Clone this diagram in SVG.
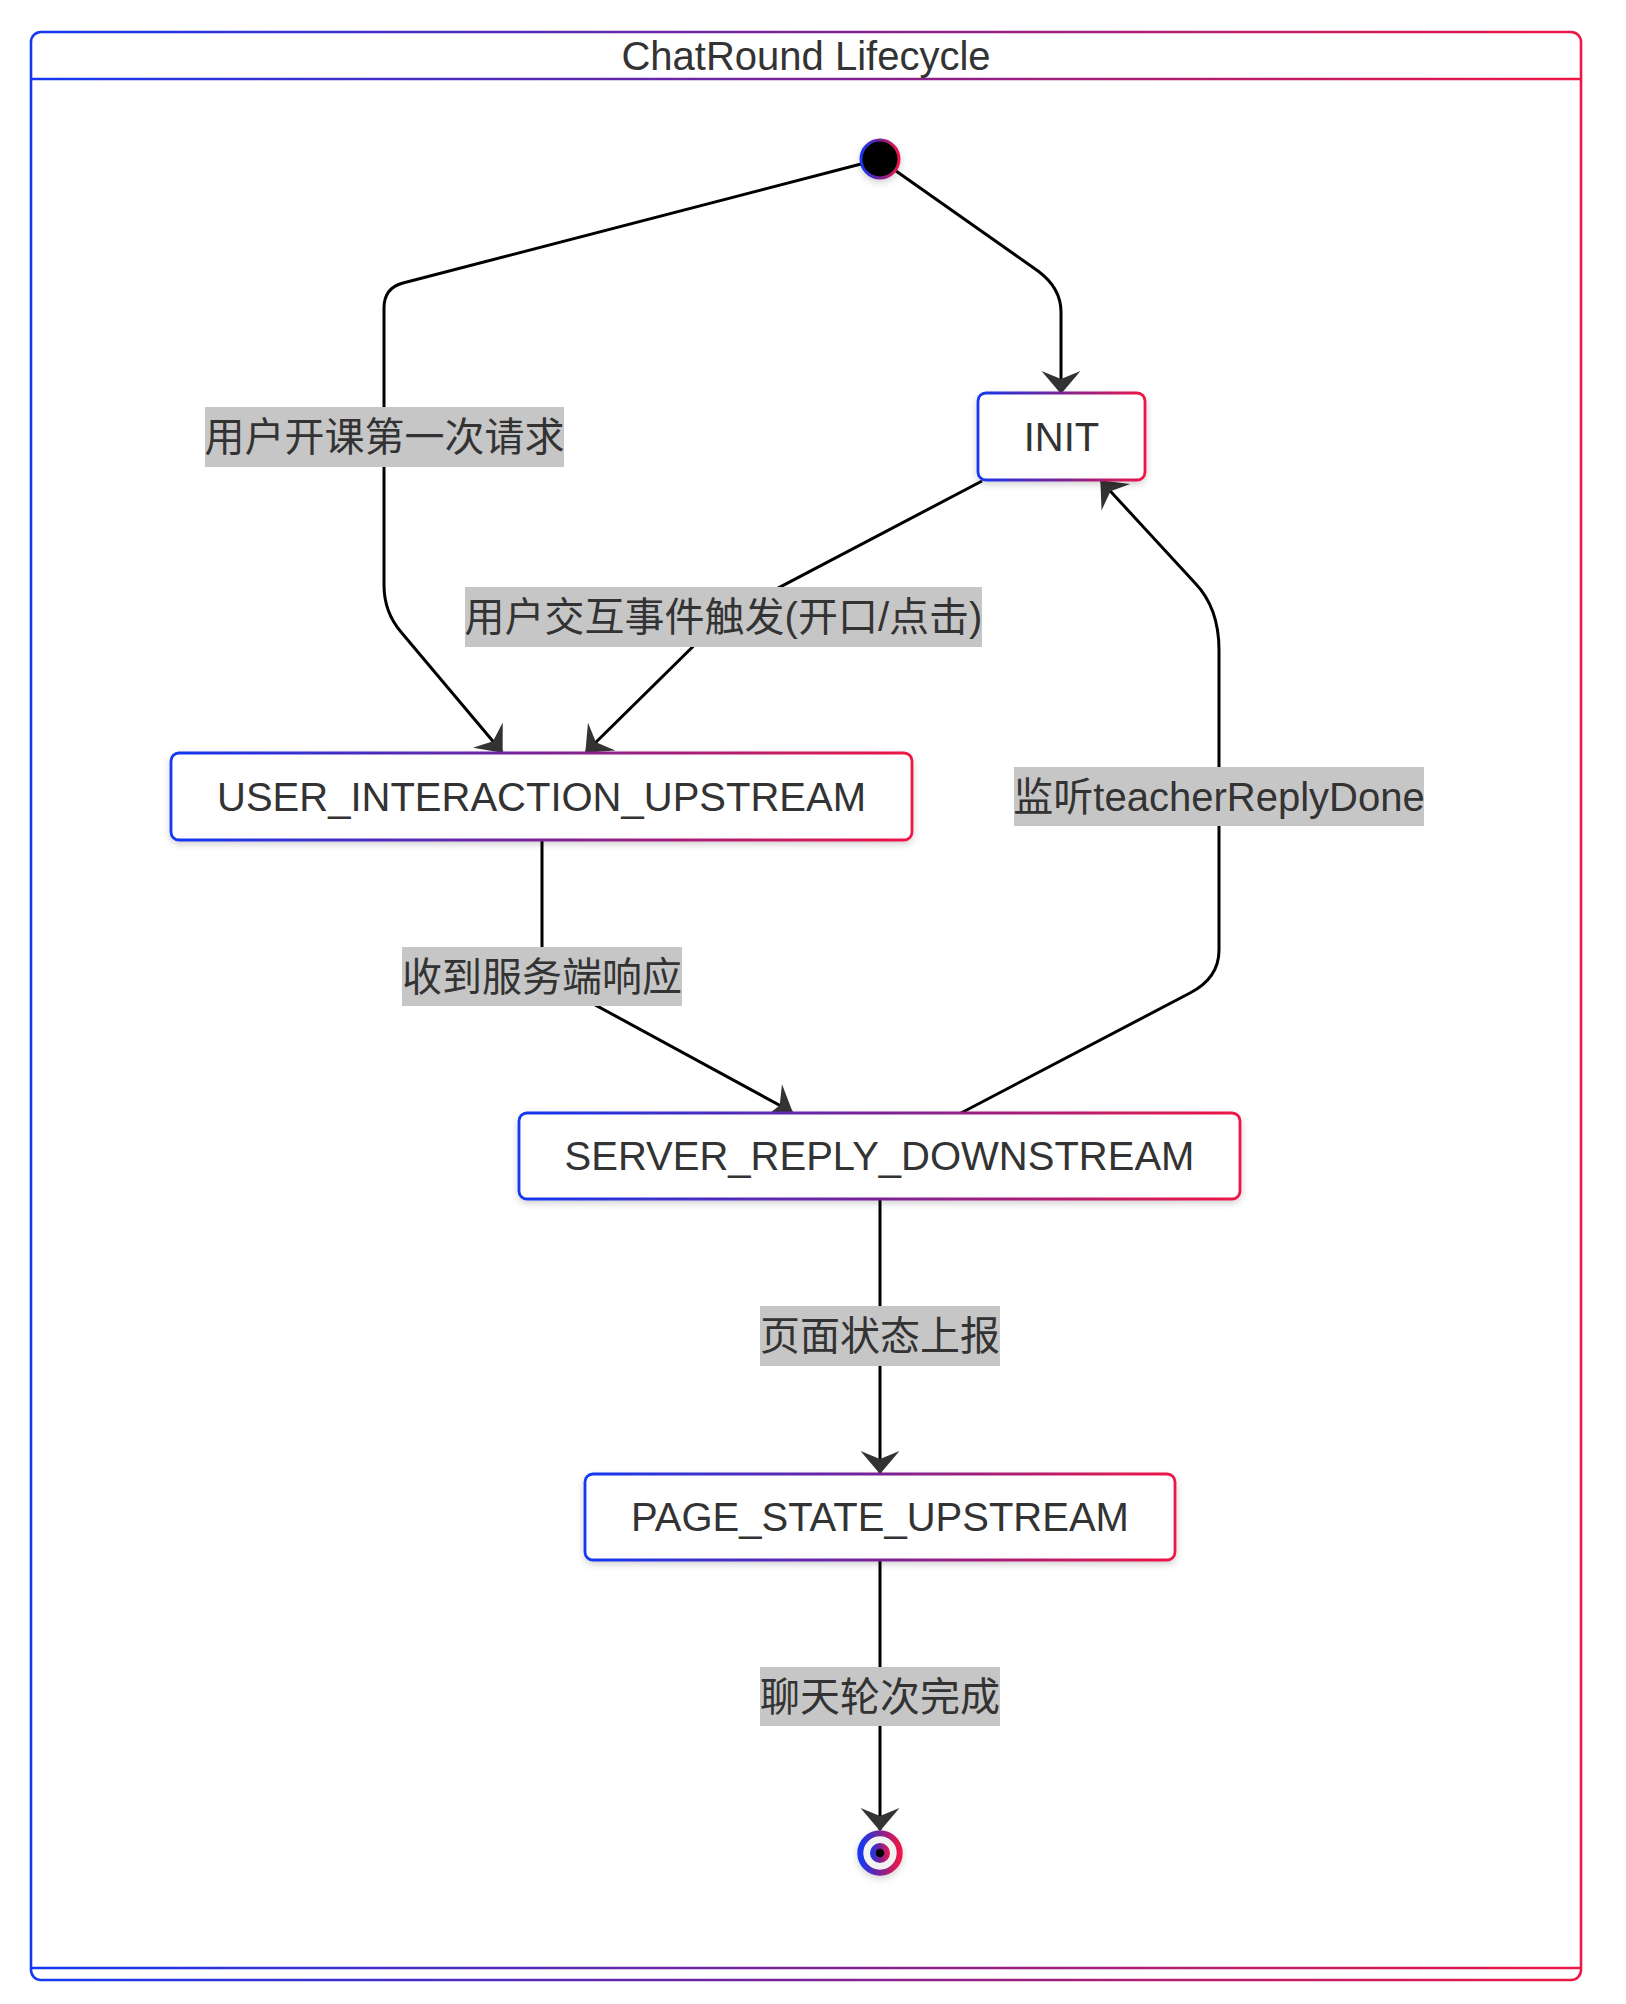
<svg xmlns="http://www.w3.org/2000/svg" width="1626" height="2004" viewBox="0 0 1626 2004">
  <style>
    .node-box { fill: #ffffff; stroke: url(#grad); stroke-width: 2.8; filter: url(#shadow); }
    .node-text { font-family: "Liberation Sans", Arial, sans-serif; font-size: 40px; fill: #333333; text-anchor: middle; dominant-baseline: central; }
    .edge { fill: none; stroke: #000000; stroke-width: 3; marker-end: url(#arrow); }
    .lbl-bg { fill: #c6c6c6; }
    .lbl-text { font-family: "Liberation Sans", "Noto Sans CJK SC", sans-serif; font-size: 40px; fill: #333333; text-anchor: middle; dominant-baseline: central; }
    .frame { fill: none; stroke: url(#gradFrame); stroke-width: 2.6; }
  </style>
  <defs>
    <linearGradient id="grad" x1="0" y1="0" x2="1" y2="0">
      <stop offset="0" stop-color="#1438f0"/>
      <stop offset="0.5" stop-color="#7a2296"/>
      <stop offset="1" stop-color="#ee1846"/>
    </linearGradient>
    <linearGradient id="gradFrame" gradientUnits="userSpaceOnUse" x1="31" y1="0" x2="1581" y2="0">
      <stop offset="0" stop-color="#1438f0"/>
      <stop offset="0.5" stop-color="#7a2296"/>
      <stop offset="1" stop-color="#ee1846"/>
    </linearGradient>
    <filter id="shadow" x="-20%" y="-30%" width="140%" height="170%">
      <feDropShadow dx="0" dy="3" stdDeviation="3.5" flood-color="#000000" flood-opacity="0.18"/>
    </filter>
    <marker id="arrow" viewBox="-24 -21 26 42" refX="0" refY="0" markerWidth="26" markerHeight="42" markerUnits="userSpaceOnUse" orient="auto">
      <path d="M1,0 L-22,-19.5 L-14,0 L-22,19.5 Z" fill="#333333"/>
    </marker>
  </defs>

  <rect width="1626" height="2004" fill="#ffffff"/>

  <g id="ChatRound_Lifecycle">
    <rect class="frame" x="31" y="32" width="1550" height="1948" rx="10" ry="10"/>
    <line class="frame" x1="31" y1="79" x2="1581" y2="79"/>
    <line class="frame" x1="31" y1="1968" x2="1581" y2="1968"/>
    <text x="806" y="70" font-family="Liberation Sans, Arial, sans-serif" font-size="40" fill="#333333" text-anchor="middle">ChatRound Lifecycle</text>
  </g>

  <g id="edges">
    <path class="edge" d="M861,164 L403,283 Q384,288 384,308 L384,585 Q384,612 401,632 L502,752"/>
    <path class="edge" d="M896,171 L1038,271 Q1061,288 1061,312 L1061,393"/>
    <path class="edge" d="M982,481 L723,617 L586,752"/>
    <path class="edge" d="M542,840 L542,976 L792,1112"/>
    <path class="edge" d="M961,1113 L1190,993 Q1219,978 1219,950 L1219,650 Q1219,608 1195,583 L1101,481"/>
    <path class="edge" d="M880,1199 L880,1473"/>
    <path class="edge" d="M880,1560 L880,1830"/>
  </g>

  <g id="edge-labels">
    <g id="label_start_user">
      <rect class="lbl-bg" x="205" y="407" width="359" height="60"/>
      <text class="lbl-text" x="384.5" y="437">用户开课第一次请求</text>
    </g>
    <g id="label_init_user">
      <rect class="lbl-bg" x="465" y="587" width="517" height="60"/>
      <text class="lbl-text" x="723.5" y="617">用户交互事件触发(开口/点击)</text>
    </g>
    <g id="label_user_server">
      <rect class="lbl-bg" x="402" y="947" width="280" height="59"/>
      <text class="lbl-text" x="542" y="976.5">收到服务端响应</text>
    </g>
    <g id="label_server_init">
      <rect class="lbl-bg" x="1014" y="767" width="410" height="59"/>
      <text class="lbl-text" x="1219" y="796.5">监听teacherReplyDone</text>
    </g>
    <g id="label_server_page">
      <rect class="lbl-bg" x="760" y="1306" width="240" height="60"/>
      <text class="lbl-text" x="880" y="1336">页面状态上报</text>
    </g>
    <g id="label_page_end">
      <rect class="lbl-bg" x="760" y="1667" width="240" height="59"/>
      <text class="lbl-text" x="880" y="1696.5">聊天轮次完成</text>
    </g>
  </g>

  <g id="start">
    <circle cx="880" cy="159" r="19" fill="#000000" stroke="url(#grad)" stroke-width="3" filter="url(#shadow)"/>
  </g>

  <g id="INIT">
    <rect class="node-box" x="978" y="393" width="167" height="87" rx="8" ry="8"/>
    <text class="node-text" x="1061.5" y="436.5">INIT</text>
  </g>

  <g id="USER_INTERACTION_UPSTREAM">
    <rect class="node-box" x="171" y="753" width="741" height="87" rx="8" ry="8"/>
    <text class="node-text" x="541.5" y="796.5">USER_INTERACTION_UPSTREAM</text>
  </g>

  <g id="SERVER_REPLY_DOWNSTREAM">
    <rect class="node-box" x="519" y="1113" width="721" height="86" rx="8" ry="8"/>
    <text class="node-text" x="879.5" y="1156">SERVER_REPLY_DOWNSTREAM</text>
  </g>

  <g id="PAGE_STATE_UPSTREAM">
    <rect class="node-box" x="585" y="1474" width="590" height="86" rx="8" ry="8"/>
    <text class="node-text" x="880" y="1517">PAGE_STATE_UPSTREAM</text>
  </g>

  <g id="end">
    <circle cx="880" cy="1853" r="19.7" fill="#f2f2f2" stroke="url(#grad)" stroke-width="6" filter="url(#shadow)"/>
    <circle cx="880" cy="1853" r="10" fill="url(#grad)"/>
    <circle cx="880" cy="1853" r="4.2" fill="#000000"/>
  </g>
</svg>
